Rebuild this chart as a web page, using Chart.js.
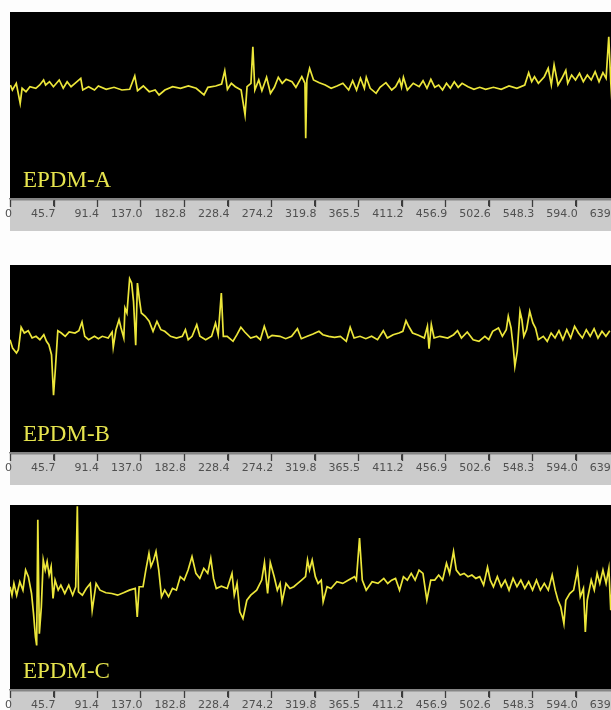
<!DOCTYPE html>
<html>
<head>
<meta charset="utf-8">
<title>EPDM</title>
<script src="https://cdn.jsdelivr.net/npm/chart.js@4.4.1/dist/chart.umd.min.js"></script>
<style>
  html, body { margin: 0; padding: 0; width: 611px; height: 710px; overflow: hidden; background: #fdfdfd; }
  canvas { position: absolute; left: 0; }
</style>
</head>
<body>
<canvas id="chartA" width="630" height="219" style="top:12px"></canvas>
<canvas id="chartB" width="630" height="220" style="top:265px"></canvas>
<canvas id="chartC" width="630" height="217" style="top:505px"></canvas>
<script>
// axis ticks (same for the three traces)
const tickLabels = ['0', '45.7', '91.4', '137.0', '182.8', '228.4', '274.2', '319.8',
                    '365.5', '411.2', '456.9', '502.6', '548.3', '594.0', '639.7'];
const tickValues = tickLabels.map(Number);

const panelNames = ['EPDM-A', 'EPDM-B', 'EPDM-C'];

// EPDM-A
const timeA = [0.4, 2.5, 6.6, 10.7, 12.7, 16.8, 20.9, 27.1, 31.2, 35.3,
  37.4, 41.5, 45.6, 51.7, 55.9, 60, 64.1, 68.2, 74.3, 76.4,
  82.5, 88.7, 92.8, 101, 109.2, 117.5, 125.7, 131, 133.9, 140,
  146.2, 152.4, 156.5, 162.6, 170.8, 179, 187.3, 195.5, 203.7, 207.8,
  216, 222.2, 225.5, 228.3, 232.4, 236.6, 242.7, 246.8, 248.9, 253,
  255, 257.1, 261.2, 264.5, 269.4, 273.5, 277.6, 281.7, 285.8, 289.9,
  296.1, 300.2, 306.4, 309.7, 310.5, 311.7, 314.6, 318.7, 324.8, 331,
  337.2, 343.3, 349.5, 355.6, 359.8, 363.9, 368, 372.1, 374.1, 378.2,
  384.4, 388.5, 394.7, 400.8, 404.9, 409, 411.1, 413.1, 417.2, 423.4,
  429.6, 433.7, 437.8, 441.9, 446, 450.1, 454.2, 458.3, 462.4, 466.5,
  470.6, 474.7, 480.9, 487.1, 493.2, 499.4, 507.6, 515.8, 524, 532.2,
  540.5, 544.6, 547.8, 550.7, 554.8, 561, 565.1, 568.4, 571.3, 575.4,
  579.5, 583.6, 585.6, 589.7, 593.8, 598, 602, 606.2, 610.3, 614.4,
  618.5, 622.6, 625.9, 628.7, 630.8, 632.9, 634.1];
const ampA = [3, -2, 4.7, -15.3, -0.3, -3.7, 1.3, -0.3, 3, 8,
  3, 6.3, 1.3, 8, -0.3, 6.3, 1.3, 4.7, 9.7, -2,
  1.3, -2, 2, -1.3, 0.7, -2, -1.3, 12, -2.7, 2,
  -3.7, -2, -7, -2, 1.3, -0.3, 2, -0.3, -7, 0.7,
  2, 4, 17.3, -1.3, 4.7, 1.3, -2, -27, 1.3, 4.7,
  41.3, -2, 8, -2.7, 10.7, -5.3, 0.7, 10.7, 4.7, 8.7,
  6.3, 0.7, 11.3, 4.7, -50.3, 8, 19.7, 8, 5.3, 3,
  -0.3, 2, 4.7, -2, 7.3, -2, 9.7, -0.3, 10.7, -0.3,
  -5.3, 0.7, 5.3, -2, 1.3, 8.7, 0.7, 10.7, -2, 4.7,
  1.3, 7.3, -0.3, 8.7, 0.7, 3, -2, 4.7, -0.3, 6.3,
  0.7, 4.7, 1.3, -1.3, 0.7, -1.3, 0.7, -1.3, 2, -0.3,
  3, 15.3, 6.3, 11.3, 4.7, 11.3, 19.7, 3, 23, 3,
  9.7, 17.7, 4.7, 13, 8, 14.7, 6.3, 13, 8, 16.3,
  6.3, 15.3, 9.7, 51.3, 6.3, -28.7, 13];

// EPDM-B
const timeB = [0, 2.7, 6.8, 8.8, 11.7, 15, 19.1, 23.2, 27.3, 31.4,
  35.5, 38.3, 40.8, 43.6, 45.7, 47.7, 50.2, 53.9, 58, 62.1,
  68.2, 72.3, 75.6, 78.5, 82.6, 88.7, 92.8, 96.9, 103.1, 107.2,
  108.4, 111.3, 114.5, 116.6, 119.5, 120.7, 122.8, 125.6, 127.7, 129.7,
  132, 133.8, 135.9, 137.9, 142, 146.1, 150.2, 154.3, 158.4, 162.5,
  168.6, 174.8, 180.9, 184.2, 187.1, 191.2, 196.1, 199.4, 205.5, 211.7,
  215.8, 218.6, 221.9, 224, 228.1, 234.2, 238.3, 242.4, 246.5, 252.7,
  258.8, 262.9, 267, 271.1, 275.2, 283.4, 289.5, 295.7, 301.8, 305.9,
  312.1, 318.2, 324.4, 328.5, 334.6, 340.8, 346.9, 353.1, 357.2, 361.3,
  367.5, 373.6, 379.7, 385.9, 392, 396.1, 402.3, 408.4, 412.5, 415.8,
  418.6, 422.7, 428.9, 435, 438.3, 440, 442.4, 445.3, 451.4, 459.6,
  465.8, 469.9, 474, 480.1, 486.3, 492.4, 498.6, 502.7, 506.8, 512.9,
  517, 521.1, 523.2, 526.1, 528.5, 530.1, 532.6, 535.5, 537.5, 539.5,
  542.4, 545.7, 549, 551.8, 554.7, 560, 564.1, 568.2, 572.3, 576.4,
  580.5, 584.6, 588.7, 592.8, 596.9, 601, 605.1, 609.2, 613.3, 617.4,
  621.6, 625.7, 629.8];
const ampB = [-1.7, -10, -15, -11.7, 10.7, 5, 7.3, 0, 1.7, -1.7,
  3.3, -3.3, -6.7, -16.7, -57.3, -30, 7.3, 5, 1.7, 6,
  5, 7.3, 16, 1.7, -1.7, 1.7, -0.7, 1.7, 0, 6,
  -9.3, 8.3, 18.3, 10, 0, 30, 25, 59.3, 55, 36.7,
  -7.3, 55, 38.3, 25, 21.7, 16.7, 6.7, 16.7, 8.3, 6.7,
  1.7, 0, 1.7, 8.3, -1.7, 1.7, 13.3, 1.7, -1.7, 1.7,
  15, 3.3, 45, 1.7, 1.7, -3.3, 3.3, 10.7, 6, 0,
  1.7, -1.7, 11.7, 0, 2.7, 1.7, -0.7, 1.7, 9.3, -0.7,
  1.7, 4, 6.7, 3.3, 1.7, 0.7, 1.7, -3.3, 10.7, 0,
  1.7, -0.7, 1.7, -1.7, 7.3, 0, 3.3, 5, 6.7, 17.3,
  11.7, 5, 2.7, 0, 11.7, -10.7, 13.3, 0, 1.7, 0,
  3.3, 7.3, 0, 6, -1.7, -3.3, 1.7, -1.7, 6.7, 10,
  1.7, 8.3, 21.7, 10, -10, -28.3, -13.3, 26.7, 18.3, 1.7,
  8.3, 26.7, 15, 10, -1.7, 1.7, -3.3, 5, 0, 7.3,
  -1.7, 8.3, 0, 11.7, 5, 0, 8.3, 1.7, 9.3, 0,
  6.7, 1.7, 7.3];

// EPDM-C
const timeC = [0, 2.1, 4.1, 7, 10.3, 13.6, 16.4, 19.3, 22.6, 24.7,
  26.7, 28, 29.2, 30.8, 32.9, 34.9, 37, 39, 41.1, 43.2,
  45.2, 47.3, 50.6, 53.4, 57.5, 61.7, 65.8, 69, 70.7, 71.9,
  76, 80.1, 84.3, 86.3, 90.4, 94.5, 100.7, 106.9, 113, 119.2,
  125.4, 131.5, 133.6, 135.6, 139.7, 142.6, 145.9, 148, 150.8, 153.3,
  156.2, 159.1, 162.4, 166.5, 170.6, 174.7, 178.8, 182.9, 187, 191.1,
  195.2, 199.3, 203.5, 207.6, 210.8, 213.7, 216.6, 221.9, 228.1, 233.1,
  235.5, 238.4, 241.3, 244.6, 248.7, 252.8, 259, 264.3, 267.2, 270.5,
  273.3, 277.4, 280.7, 283.6, 285.7, 289.8, 293.9, 298, 302.1, 306.2,
  310.3, 312.4, 314.5, 317.3, 320.6, 323.5, 326.8, 328.8, 332.9, 337,
  343.2, 349.4, 355.5, 361.7, 363.7, 367, 369.9, 374, 380.2, 386.4,
  392.5, 396.6, 400.7, 404.8, 409, 413.1, 417.2, 421.3, 425.4, 429.5,
  433.6, 437.7, 441.8, 446, 450.1, 454.2, 458.3, 461.6, 465.7, 468.6,
  472.7, 476.8, 480.9, 485, 489.1, 493.2, 497.3, 501.4, 504.3, 507.6,
  511.7, 515.8, 519.9, 524, 528.2, 532.3, 536.4, 540.5, 544.6, 548.7,
  552.8, 556.9, 561, 565.2, 569.3, 572.5, 575.4, 578.3, 581.6, 583.6,
  587.7, 591.8, 595.9, 598.8, 602.1, 604.1, 606.1, 610.3, 613.5, 616.5,
  619.3, 622.6, 625.9, 628.8, 630.8, 632.9];
const ampC = [6.7, -1.7, 10, -1.7, 11.7, 3.3, 23.3, 16.7, 0, -20,
  -43.3, -51.7, 73.3, -40, -13.3, 33.3, 23.3, 31.7, 18.3, 26.7,
  -5, 13.3, 3.3, 8.3, 0, 8.3, -1.7, 6.7, 86.7, 1.7,
  -1.7, 5, 10, -16.7, 10, 3.3, 0.7, 0, -1.7, 0.7,
  3.3, 5, -23.3, 6.7, 6.7, 23.3, 40, 26.7, 33.3, 41.7,
  23.3, -3.3, 3.3, -3.3, 5, 3.3, 16.7, 13.3, 23.3, 36.7,
  20, 15, 25, 20, 35, 15, 5, 7.3, 5, 20,
  -1.7, 10, -18.3, -25, -6.7, -1.7, 3.3, 13.3, 30.7, 0,
  30.7, 16.7, 3.3, 10, -8.3, 10, 5, 6.7, 10, 13.3,
  16.7, 33.3, 23.3, 33.3, 16.7, 10, 13.3, -8.3, 6.7, 5,
  11.7, 10, 13.3, 16.7, 13.3, 55, 13.3, 3.3, 11.7, 10,
  15, 10, 13.3, 15, 3.3, 16.7, 13.3, 20, 13.3, 23.3,
  20, -6.7, 13.3, 13.3, 18.3, 13.3, 30, 20, 41.7, 23.3,
  18.3, 20, 16.7, 18.3, 15, 16.7, 8.3, 26, 13.3, 6.7,
  16.7, 6.7, 13.3, 3.3, 15, 6.7, 13.3, 5, 11.7, 3.3,
  13.3, 3.3, 10, 3.3, 18.3, 3.3, -6.7, -13.3, -30, -6.7,
  0, 3.3, 23.3, -3.3, 5, -38.3, -6.7, 13.3, 3.3, 20,
  10, 23.3, 10, 25, -16.7, 13.3];

const LINE_COLOR = '#ece63a';
const NAME_COLOR = '#e6e44e';
const STRIP_COLOR = '#cbcbcb';
const X_MAX = 651;

// black plot area, grey axis strip with its tick marks, and the sample name
const scopePlugin = {
  id: 'scope',
  beforeDraw(chart) {
    const ctx = chart.ctx;
    const a = chart.chartArea;
    ctx.save();
    ctx.fillStyle = STRIP_COLOR;
    ctx.fillRect(a.left, a.bottom, a.right - a.left, chart.height - a.bottom);
    ctx.fillStyle = '#000';
    ctx.fillRect(a.left, a.top, a.right - a.left, a.bottom - a.top);
    ctx.restore();
  },
  afterDatasetsDraw(chart, args, opts) {
    const ctx = chart.ctx;
    const a = chart.chartArea;
    ctx.save();
    ctx.fillStyle = NAME_COLOR;
    ctx.font = '23px "Liberation Serif", "Times New Roman", serif';
    ctx.textBaseline = 'alphabetic';
    ctx.fillText(opts.text, a.left + 13, a.bottom - 12);
    ctx.restore();
  },
  afterDraw(chart) {
    const ctx = chart.ctx;
    const sx = chart.scales.x;
    const y0 = Math.round(chart.chartArea.bottom);
    ctx.save();
    ctx.strokeStyle = '#858585';
    ctx.lineWidth = 1.5;
    ctx.beginPath();
    ctx.moveTo(sx.left, y0 + 0.75);
    ctx.lineTo(sx.right, y0 + 0.75);
    ctx.stroke();
    ctx.strokeStyle = '#3c3c3c';
    ctx.lineWidth = 1.3;
    ctx.beginPath();
    sx.ticks.forEach((t, i) => {
      const x = Math.round(sx.getPixelForTick(i)) + 0.5;
      ctx.moveTo(x, y0 + 1);
      ctx.lineTo(x, y0 + 8);
    });
    ctx.stroke();
    ctx.restore();
  }
};

function makeChart(id, name, times, amps, yMin, yMax) {
  const points = times.map((t, i) => ({ x: t, y: amps[i] }));
  return new Chart(document.getElementById(id), {
    type: 'line',
    data: {
      datasets: [{
        data: points,
        borderColor: LINE_COLOR,
        borderWidth: 1.7,
        pointRadius: 0,
        tension: 0,
        fill: false
      }]
    },
    options: {
      responsive: false,
      animation: false,
      events: [],
      layout: { padding: { left: 10, right: 0, top: 0, bottom: 0 } },
      plugins: {
        legend: { display: false },
        tooltip: { enabled: false },
        scope: { text: name }
      },
      scales: {
        x: {
          type: 'linear',
          min: 0,
          max: X_MAX,
          afterBuildTicks: s => { s.ticks = tickValues.map(v => ({ value: v })); },
          afterFit: s => { s.height = 32; s.paddingLeft = 0; s.paddingRight = 0; },
          grid: { drawOnChartArea: false, drawTicks: true, tickLength: 7, tickColor: '#3c3c3c' },
          border: { display: true, color: '#858585', width: 1.5 },
          ticks: {
            autoSkip: false,
            maxRotation: 0,
            align: 'end',
            labelOffset: 2,
            padding: 2,
            color: '#505050',
            font: { family: 'DejaVu Sans', size: 11 },
            callback: (v, i) => tickLabels[i]
          }
        },
        y: { display: false, min: yMin, max: yMax }
      }
    },
    plugins: [scopePlugin]
  });
}

makeChart('chartA', panelNames[0], timeA, ampA, -111, 76);
makeChart('chartB', panelNames[1], timeB, ampB, -115, 73);
makeChart('chartC', panelNames[2], timeC, ampC, -96, 88);
</script>
</body>
</html>
